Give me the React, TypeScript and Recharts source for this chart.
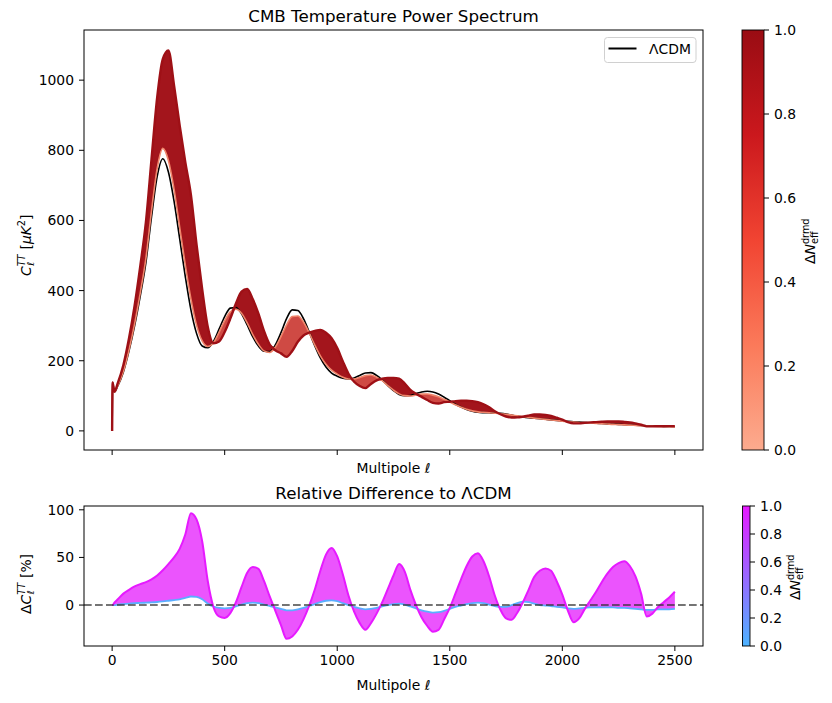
import React from 'react';
import { ComposedChart, Line, Area, XAxis, YAxis, ReferenceLine } from 'recharts';

const FONT = "'DejaVu Sans', sans-serif";
const FS = 13.9;

// multipole grid
const ELL = [
  0, 2, 10,
  25, 50, 75, 100,
  125, 150, 175, 200,
  225, 250, 275, 300,
  325, 350, 375, 400,
  425, 450, 475, 500,
  525, 550, 575, 600,
  625, 650, 675, 700,
  725, 750, 775, 800,
  825, 850, 875, 900,
  925, 950, 975, 1000,
  1025, 1050, 1075, 1100,
  1125, 1150, 1175, 1200,
  1225, 1250, 1275, 1300,
  1325, 1350, 1375, 1400,
  1425, 1450, 1475, 1500,
  1525, 1550, 1575, 1600,
  1625, 1650, 1675, 1700,
  1725, 1750, 1775, 1800,
  1825, 1850, 1875, 1900,
  1925, 1950, 1975, 2000,
  2025, 2050, 2075, 2100,
  2125, 2150, 2175, 2200,
  2225, 2250, 2275, 2300,
  2325, 2350, 2375, 2400,
  2425, 2450, 2475, 2500,
];

// LambdaCDM C_l^TT (uK^2)
const TT_LCDM = [
  0, 138, 111,
  128, 168, 228, 300,
  385, 480, 610, 725,
  776, 738, 655, 548,
  440, 345, 278, 242,
  237, 255, 290, 326,
  350, 352, 334, 302,
  268, 242, 227, 226,
  245, 280, 320, 345,
  343, 320, 283, 243,
  208, 182, 165, 156,
  150, 148, 151, 158,
  165, 166, 158, 145,
  129, 115, 104, 100,
  101, 106, 111, 113,
  111, 105, 96, 86,
  76, 68, 61, 56,
  53, 52, 51.5, 51,
  50, 48, 45, 42,
  39.5, 37.5, 36, 34.5,
  33, 31.5, 30, 28.5,
  27, 26, 25, 24,
  23, 22, 21, 20,
  19, 18.5, 17.5, 17,
  16.2, 15.5, 14.8, 14.2,
  13.6, 13, 12.5, 12,
];

// smallest Delta N_eff C_l^TT (lightest curve)
const TT_DNMIN = [
  0, 138, 111,
  128.6, 169.7, 231.4, 306,
  393.5, 492, 627, 748,
  805.5, 771, 689, 581,
  473, 376, 301.6, 256.5,
  240.6, 251, 281, 314.6,
  339.5, 346.7, 335.7, 308,
  274.7, 246.8, 228, 223.7,
  238.9, 268.8, 302.4, 326,
  327.6, 310.4, 280.2, 245.4,
  214, 190, 173, 162,
  153, 148, 148, 152.5,
  157.6, 159.4, 153, 143,
  129, 116, 105.6, 100.5,
  99.5, 102.3, 104.9, 105,
  102, 97, 90, 82.6,
  74.5, 67.7, 61.6, 57.1,
  54.3, 53, 51.8, 50.5,
  49, 47, 45, 42.8,
  40.9, 38.6, 36.5, 34.5,
  32.8, 31.2, 29.4, 27.8,
  26, 25, 24.1, 23.3,
  22.4, 21.5, 20.5, 19.5,
  18.5, 17.9, 17, 16.4,
  15.6, 14.8, 14.1, 13.5,
  13, 12.4, 11.9, 11.5,
];

// Delta N_eff = 1 C_l^TT
const TT_DN1 = [
  0, 138, 112,
  136, 188, 264, 358,
  470, 595, 775, 950,
  1060, 1085, 985, 871,
  766, 673, 531, 404,
  296, 250, 255, 282,
  320, 363, 397, 405,
  375, 334, 284, 246,
  230, 221, 211, 228,
  254, 272, 280, 285,
  288, 280, 264, 236,
  198, 163, 140, 128,
  122, 134, 144, 149,
  151, 151, 149, 135,
  117, 106, 97, 88,
  80, 78, 82, 83,
  85, 86, 86, 85,
  82, 76, 67, 56,
  47.5, 41, 38, 38.6,
  40.7, 43.5, 46.6, 46.9,
  45.7, 42.8, 37.5, 32.2,
  24.8, 21.3, 21.5, 23,
  24.2, 25, 26, 26.6,
  26.6, 26.6, 25.6, 24,
  21, 17.4, 13, 12.9,
  13.3, 13.4, 13.5, 13.7,
];

// relative difference (%) for the smallest Delta N_eff
const REL_LOW = [
  0, 0, 0,
  0.5, 1, 1.5, 2,
  2.2, 2.5, 2.8, 3.2,
  3.8, 4.5, 5.2, 6,
  7.5, 9, 8.5, 6,
  1.5, -1.5, -3, -3.5,
  -3, -1.5, 0.5, 2,
  2.5, 2, 0.5, -1,
  -2.5, -4, -5.5, -5.5,
  -4.5, -3, -1, 1,
  3, 4.5, 5, 4,
  2, 0, -2, -3.5,
  -4.5, -4, -3, -1.5,
  0, 1, 1.5, 0.5,
  -1.5, -3.5, -5.5, -7,
  -8, -7.5, -6, -4,
  -2, -0.5, 1, 2,
  2.5, 2, 0.5, -1,
  -2, -2, 0, 2,
  3.5, 3, 1.5, 0,
  -0.5, -1, -2, -2.5,
  -3.5, -4, -3.5, -3,
  -2.5, -2.5, -2.5, -2.5,
  -2.5, -3, -3, -3.5,
  -4, -4.5, -5, -5,
  -4.5, -4.5, -4.5, -4,
];

// relative difference (%) for Delta N_eff = 1
const REL_DN1 = [
  0, 0, 2.5,
  6, 12, 16, 19.5,
  22, 24, 27, 31,
  36.5, 43, 50, 59,
  74, 96.5, 90, 67,
  25, -2, -12, -13.5,
  -8.5, 3, 19, 34,
  40, 38, 25, 9,
  -6, -21, -35.5, -33,
  -26, -15, -1, 16,
  36, 53, 60, 51,
  32, 10, -7, -19,
  -26, -19, -9, 3,
  17, 31, 43, 35,
  16, 0, -13, -22,
  -28, -26, -15, -3,
  12, 27, 41, 51,
  54.5, 46, 30, 10,
  -5, -14, -15.5, -8,
  3, 16, 29.5, 36,
  38.5, 36, 25, 11,
  -6, -18, -14, -4,
  5, 14, 24, 33,
  40, 44, 46, 41,
  30, 12, -12, -9,
  -2, 3, 8, 14,
];

const X_TICKS = [0, 500, 1000, 1500, 2000, 2500];
const TT_Y_TICKS = [0, 200, 400, 600, 800, 1000];
const REL_Y_TICKS = [0, 50, 100];
const CBAR_TICKS = [0, 0.2, 0.4, 0.6, 0.8, 1.0];

const data = ELL.map((ell, i) => {
  const c0 = TT_DNMIN[i];
  const c1 = TT_DN1[i];
  return {
    ell,
    lcdm: TT_LCDM[i],
    dnmin: c0,
    dn1: c1,
    bandUp: [c0, Math.max(c0, c1)],
    bandDown: [Math.min(c0, c1), c0],
    relLow: REL_LOW[i],
    relHigh: REL_DN1[i],
    relBand: [REL_LOW[i], REL_DN1[i]],
  };
});

const tickStyle = { fontSize: FS, fill: '#000', fontFamily: FONT };

// plot geometry (page pixels)
const P_LEFT = 84;
const P_RIGHT = 703;
const TOP_Y0 = 30;
const TOP_Y1 = 450;
const BOT_Y0 = 506;
const BOT_Y1 = 646;

function Colorbar({ x, y, w, h, id, stops, labelX, labelY, tickX }: any) {
  return (
    <g>
      <defs>
        <linearGradient id={id} x1="0" y1="1" x2="0" y2="0">
          {stops.map((s: any, i: number) => (
            <stop key={i} offset={s[0]} stopColor={s[1]} />
          ))}
        </linearGradient>
      </defs>
      <rect x={x} y={y} width={w} height={h} fill={`url(#${id})`} stroke="#000" strokeWidth={0.9} />
      {CBAR_TICKS.map((t) => {
        const ty = y + h - t * h;
        return (
          <g key={t}>
            <line x1={x + w} x2={x + w + 5} y1={ty} y2={ty} stroke="#000" strokeWidth={1} />
            <text x={tickX} y={ty} dy="0.36em" fontSize={FS} fontFamily={FONT} fill="#000">
              {t.toFixed(1)}
            </text>
          </g>
        );
      })}
      <text transform={`translate(${labelX},${labelY}) rotate(-90)`} fontSize={FS} fontFamily={FONT} fill="#000" textAnchor="start">
        <tspan x={-24}>Δ</tspan>
        <tspan fontStyle="italic">N</tspan>
        <tspan fontSize={9.7} dy={-6}>drmd</tspan>
        <tspan fontSize={9.7} dx={-25.5} dy={9}>eff</tspan>
      </text>
    </g>
  );
}

const lineCommon = { type: 'monotone' as const, dot: false, activeDot: false, isAnimationActive: false };

export default function App() {
  return (
    <div style={{ position: 'absolute', left: 0, top: 0, width: 832, height: 703, background: '#fff', fontFamily: FONT }}>
      <div style={{ position: 'absolute', left: 0, top: 0 }}>
        <ComposedChart width={832} height={470} data={data} margin={{ top: TOP_Y0, right: 832 - P_RIGHT, bottom: 0, left: 24 }}>
          <XAxis
            dataKey="ell"
            type="number"
            domain={[-125, 2625]}
            ticks={X_TICKS}
            tickFormatter={() => ''}
            axisLine={false}
            tickLine={{ stroke: '#000', strokeWidth: 1 }}
            tickSize={5}
            height={20}
            allowDataOverflow
          />
          <YAxis
            type="number"
            domain={[-54.5, 1143]}
            ticks={TT_Y_TICKS}
            axisLine={false}
            tickLine={{ stroke: '#000', strokeWidth: 1 }}
            tickSize={5}
            tickMargin={5}
            width={60}
            tick={tickStyle}
            allowDataOverflow
          />
          <Line dataKey="lcdm" {...lineCommon} stroke="#000" strokeWidth={1.6} />
          <Area dataKey="bandUp" {...lineCommon} stroke="none" fill="#a3151c" fillOpacity={1} />
          <Area dataKey="bandDown" {...lineCommon} stroke="none" fill="#cf4a44" fillOpacity={1} />
          <Line dataKey="dnmin" {...lineCommon} stroke="#f0846a" strokeWidth={1.6} />
          <Line dataKey="dn1" {...lineCommon} stroke="#9e1016" strokeWidth={2.4} />
        </ComposedChart>
      </div>
      <div style={{ position: 'absolute', left: 0, top: 476 }}>
        <ComposedChart width={832} height={227} data={data} margin={{ top: BOT_Y0 - 476, right: 832 - P_RIGHT, bottom: 32, left: 24 }}>
          <XAxis
            dataKey="ell"
            type="number"
            domain={[-125, 2625]}
            ticks={X_TICKS}
            axisLine={false}
            tickLine={{ stroke: '#000', strokeWidth: 1 }}
            tickSize={5}
            tickMargin={4}
            height={25}
            tick={tickStyle}
            allowDataOverflow
          />
          <YAxis
            type="number"
            domain={[-43, 104]}
            ticks={REL_Y_TICKS}
            axisLine={false}
            tickLine={{ stroke: '#000', strokeWidth: 1 }}
            tickSize={5}
            tickMargin={5}
            width={60}
            tick={tickStyle}
            allowDataOverflow
          />
          <Line dataKey="relLow" {...lineCommon} stroke="#5aaeff" strokeWidth={1.8} />
          <Area dataKey="relBand" {...lineCommon} stroke="none" fill="#e838fd" fillOpacity={0.86} />
          <Line dataKey="relHigh" {...lineCommon} stroke="#e61aff" strokeWidth={2} />
          <ReferenceLine y={0} stroke="#333" strokeOpacity={0.9} strokeWidth={1.5} strokeDasharray="7.7 3.3" />
        </ComposedChart>
      </div>
      <svg width={832} height={703} style={{ position: 'absolute', left: 0, top: 0, pointerEvents: 'none' }}>
        {/* frames */}
        <rect x={P_LEFT} y={TOP_Y0} width={P_RIGHT - P_LEFT} height={TOP_Y1 - TOP_Y0} fill="none" stroke="#000" strokeWidth={1} />
        <rect x={P_LEFT} y={BOT_Y0} width={P_RIGHT - P_LEFT} height={BOT_Y1 - BOT_Y0} fill="none" stroke="#000" strokeWidth={1} />
        {/* titles */}
        <text x={393.5} y={22} textAnchor="middle" fontSize={16.7} fontFamily={FONT} fill="#000">CMB Temperature Power Spectrum</text>
        <text x={393.5} y={499} textAnchor="middle" fontSize={16.7} fontFamily={FONT} fill="#000">Relative Difference to ΛCDM</text>
        {/* x labels */}
        <text x={393.5} y={473} textAnchor="middle" fontSize={FS} fontFamily={FONT} fill="#000">
          Multipole <tspan fontStyle="italic">ℓ</tspan>
        </text>
        <text x={393.5} y={690} textAnchor="middle" fontSize={FS} fontFamily={FONT} fill="#000">
          Multipole <tspan fontStyle="italic">ℓ</tspan>
        </text>
        {/* y labels */}
        <text transform="translate(31,243) rotate(-90)" fontSize={FS} fontFamily={FONT} fill="#000" textAnchor="start">
          <tspan x={-33} fontStyle="italic">C</tspan>
          <tspan fontStyle="italic" fontSize={9.7} dy={-6}>TT</tspan>
          <tspan fontStyle="italic" fontSize={9.7} dx={-11.5} dy={9}>ℓ</tspan>
          <tspan dx={8} dy={-3}> [</tspan>
          <tspan fontStyle="italic">μK</tspan>
          <tspan fontSize={9.7} dy={-6}>2</tspan>
          <tspan dy={6}>]</tspan>
        </text>
        <text transform="translate(31,576) rotate(-90)" fontSize={FS} fontFamily={FONT} fill="#000" textAnchor="start">
          <tspan x={-38}>Δ</tspan>
          <tspan fontStyle="italic">C</tspan>
          <tspan fontStyle="italic" fontSize={9.7} dy={-6}>TT</tspan>
          <tspan fontStyle="italic" fontSize={9.7} dx={-11.5} dy={9}>ℓ</tspan>
          <tspan dx={8} dy={-3}> [%]</tspan>
        </text>
        {/* legend */}
        <rect x={604.5} y={37.5} width={91.5} height={25} rx={3} fill="#fff" fillOpacity={0.8} stroke="#d0d0d0" strokeWidth={1} />
        <line x1={608.5} x2={636.5} y1={48.5} y2={48.5} stroke="#000" strokeWidth={2} />
        <text x={649} y={48.5} dy="0.36em" fontSize={FS} fontFamily={FONT} fill="#000">ΛCDM</text>
        {/* colorbars */}
        <Colorbar
          x={742} y={TOP_Y0} w={22} h={TOP_Y1 - TOP_Y0} id="gradReds"
          stops={[[0, '#fcab8e'], [0.25, '#fb7a5a'], [0.5, '#f14432'], [0.75, '#cb181d'], [1, '#990c13']]}
          labelX={815} labelY={240} tickX={774}
        />
        <Colorbar
          x={742.5} y={BOT_Y0} w={7.5} h={BOT_Y1 - BOT_Y0} id="gradCool"
          stops={[[0, '#4db3ff'], [1, '#e61aff']]}
          labelX={800} labelY={576} tickX={760}
        />
      </svg>
    </div>
  );
}
